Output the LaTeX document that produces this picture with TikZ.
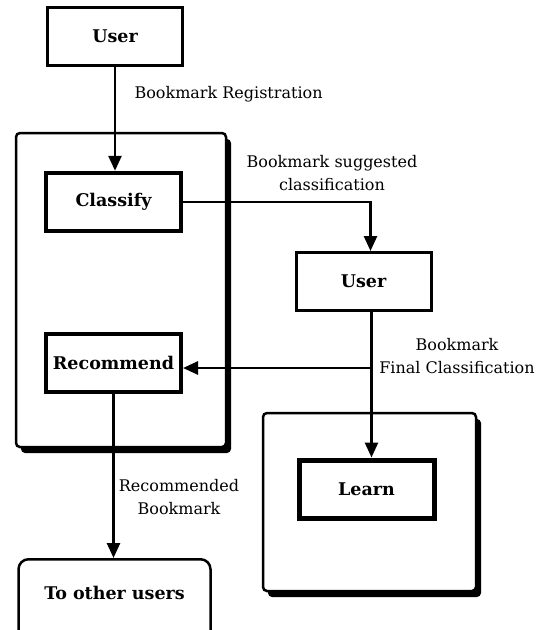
\documentclass[tikz,border=0pt]{standalone}
\usepackage{fontspec}
\setmainfont{DejaVu Serif}
\usetikzlibrary{arrows.meta,shadows}

\begin{document}
\begin{tikzpicture}[x=1pt,y=-1pt,>={Triangle[width=13pt,length=15pt]},
  font=\fontsize{16}{23}\selectfont,
  box/.style={draw,fill=white,font=\fontsize{17.5}{20}\selectfont\bfseries,minimum width=135pt,minimum height=58pt},
  frame/.style={draw,fill=white,rounded corners=4pt,line width=2.5pt,
    drop shadow={shadow xshift=5pt,shadow yshift=-6pt,opacity=1,fill=black}},
  note/.style={align=center},
  flow/.style={->,line width=2.6pt}]
\useasboundingbox (0,0) rectangle (539,630);

% outer frames
\node[frame,minimum width=210pt,minimum height=314pt] (left) at (121,290) {};
\node[frame,minimum width=213pt,minimum height=178pt] (right) at (369.5,502) {};

% boxes
\node[box,line width=3pt] (user) at (115,36) {User};
\node[box,line width=4.5pt] (classify) at (113.5,202) {Classify};
\node[box,line width=4pt] (recommend) at (113.5,362.5) {Recommend};
\node[box,line width=3pt] (checker) at (363.5,281.5) {User};
\node[box,line width=5pt] (learn) at (366.5,489) {Learn};
\node[box,line width=2.5pt,rounded corners=10pt,minimum width=192pt,minimum height=84pt,
  text depth=16pt,anchor=north] (others) at (114.5,558) {To other users};

% connectors
\draw[flow] (user.south) -- (user.south |- classify.north);
\draw[flow] (classify.east) -| ([xshift=7pt]checker.north);
\draw[flow] ([xshift=8pt]checker.south) -- ([xshift=5pt]learn.north);
\coordinate (branch) at (371.5,368);
\draw[flow] (branch) -- (branch -| recommend.east);
\draw[flow] (recommend.south) -- (recommend.south |- others.north);

% labels
\node[note,anchor=west] (regtext) at (131,94) {Bookmark Registration};
\node[note] (suggtext) at (332,173) {Bookmark suggested\\classification};
\node[note] (finaltext) at (457,356) {Bookmark\\Final Classification};
\node[note] (recotext) at (179,497) {Recommended\\Bookmark};
\end{tikzpicture}
\end{document}
